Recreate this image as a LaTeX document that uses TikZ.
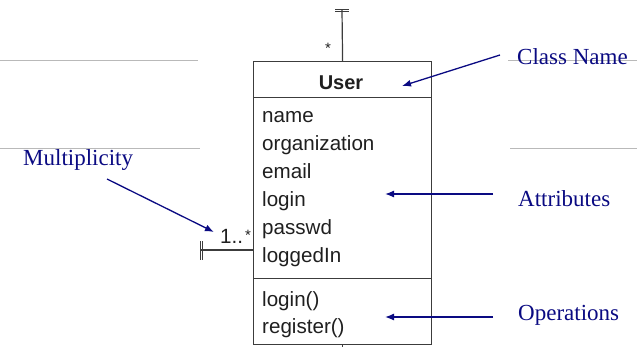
\documentclass[tikz,border=0pt]{standalone}
\usepackage{fontspec}
\setmainfont{Liberation Serif}
\newfontfamily\umlfont{Liberation Sans}
\usetikzlibrary{arrows.meta}
\definecolor{navy}{RGB}{10,10,130}
\definecolor{rulegray}{RGB}{185,185,185}
\definecolor{inkgray}{RGB}{60,60,60}
\tikzset{
  umlbox/.style={draw=inkgray, line width=1.2pt, rectangle, inner sep=0pt,
                 minimum width=178pt, minimum height=283pt, anchor=north west},
  umltext/.style={anchor=base west, inner sep=0pt, text=black!88,
                  font=\umlfont\fontsize{20.6}{20.6}\selectfont},
  umltitle/.style={anchor=base, inner sep=0pt, text=black!88,
                   font=\umlfont\bfseries\fontsize{20}{20}\selectfont},
  umlsmall/.style={anchor=base, inner sep=0pt, text=black!88,
                   font=\umlfont\fontsize{15}{15}\selectfont},
  callout/.style={anchor=west, inner sep=0pt, text=navy,
                  font=\fontsize{23}{23}\selectfont},
  pointer/.style={draw=navy, line width=1.3pt,
                  -{Latex[length=9pt,width=7pt]}},
  guide/.style={draw=rulegray, line width=0.7pt},
  link/.style={draw=inkgray, line width=1.2pt}
}
\begin{document}
\begin{tikzpicture}[x=1pt,y=-1pt]
\useasboundingbox (0,0) rectangle (637,346);

% faint guide rules
\draw[guide] (0,60) -- (198,60);
\draw[guide] (508,60) -- (637,60);
\draw[guide] (0,148) -- (200,148);
\draw[guide] (510,148) -- (637,148);

% class box with its compartments
\node[umlbox] (user) at (253,61) {};
\coordinate (div1) at (253,97);
\coordinate (div2) at (253,278);
\draw[link, line width=0.9pt] (div1) -- (div1 -| user.east);
\draw[link, line width=0.9pt] (div2) -- (div2 -| user.east);

\node[umltitle] (title) at (341,89) {User};
\node[umltext] (a1) at (262,122) {name};
\node[umltext] (a2) at (262,150) {organization};
\node[umltext] (a3) at (262,178) {email};
\node[umltext] (a4) at (262,206) {login};
\node[umltext] (a5) at (262,234) {passwd};
\node[umltext] (a6) at (262,262) {loggedIn};
\node[umltext] (o1) at (262,306) {login()};
\node[umltext] (o2) at (262,333) {register()};

% association ends
\coordinate (topend) at (342,10);
\draw[link] (user.north) -- (topend);
\draw[link, line width=1pt] (335,9) -- (349,9);
\draw[link, line width=1pt] (335,11.5) -- (349,11.5);
\node[umlsmall] (topmult) at (328,53) {*};

\coordinate (leftend) at (201,250);
\draw[link] (leftend -| user.west) -- (leftend);
\draw[link, line width=1pt] (200,241) -- (200,260);
\draw[link, line width=1pt] (202.5,241) -- (202.5,260);
\node[umltext] (leftmult) at (220,243) {1..};
\node[umlsmall] (leftstar) at (248,240) {*};

\draw[link] (user.south) -- ++(0,6);

% explanatory callouts
\node[callout] (lblname) at (517,57) {Class Name};
\node[callout] (lblattr) at (518,199) {Attributes};
\node[callout] (lblops) at (518,315) {Operations};
\node[callout] (lblmult) at (23,160) {Multiplicity};

\coordinate (cn0) at (500,55);
\coordinate (cn1) at (402,86);
\coordinate (at0) at (493,194);
\coordinate (at1) at (385,194);
\coordinate (op0) at (493,317);
\coordinate (op1) at (385,317);
\coordinate (mu0) at (107,179);
\coordinate (mu1) at (214,232);

\draw[pointer] (cn0) -- (cn1);
\draw[pointer] (at0) -- (at1);
\draw[pointer] (op0) -- (op1);
\draw[pointer] (mu0) -- (mu1);
\end{tikzpicture}
\end{document}
